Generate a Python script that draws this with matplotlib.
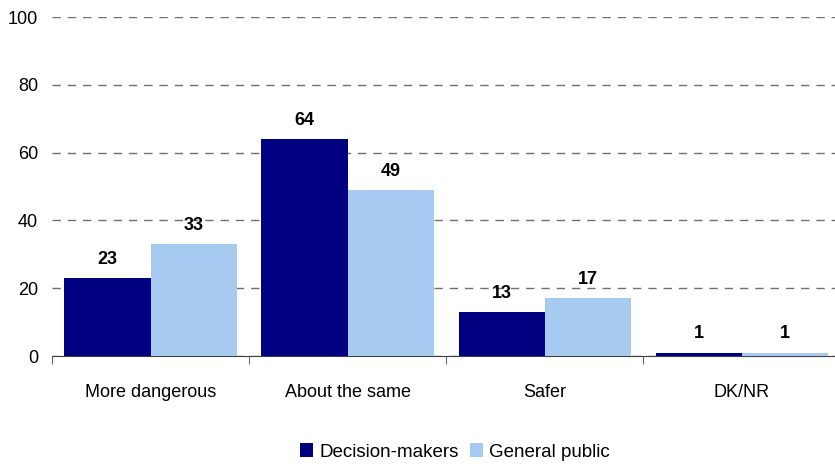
import matplotlib.pyplot as plt
import numpy as np

plt.rcParams['font.family'] = ['Liberation Sans', 'DejaVu Sans']

## Data
categories = ['More dangerous', 'About the same', 'Safer', 'DK/NR']
decision_makers = [23, 64, 13, 1]
general_public = [33, 49, 17, 1]
series_names = ['Decision-makers', 'General public']
colors = ['#000080', '#A6CAF0']

fig = plt.figure(figsize=(8.35, 4.66), dpi=100)
ax = fig.add_axes([0.0623, 0.236, 0.944, 0.7275])

x = np.arange(len(categories))
w = 0.437
b1 = ax.bar(x - w/2, decision_makers, w, color=colors[0], label=series_names[0], zorder=3)
b2 = ax.bar(x + w/2, general_public, w, color=colors[1], label=series_names[1], zorder=3)

for bars in (b1, b2):
    for r in bars:
        ax.text(r.get_x() + r.get_width()/2, r.get_height() + 3, '%d' % r.get_height(),
                ha='center', va='bottom', fontsize=13, fontweight='bold')

ax.set_xlim(-0.5, len(categories) - 0.5)
ax.set_ylim(0, 100)
ax.set_yticks(range(0, 101, 20))
ax.yaxis.grid(True, linestyle=(0, (6, 5)), color='#707070', linewidth=1.0, zorder=0)
ax.tick_params(axis='y', length=0, labelsize=13, pad=10)

## category labels, boundary ticks
ax.set_xticks(x)
ax.set_xticklabels(categories, fontsize=13)
ax.tick_params(axis='x', length=0, pad=20)
ax.set_xticks(np.arange(-0.5, len(categories) - 0.5, 1), minor=True)
ax.tick_params(axis='x', which='minor', length=6, direction='out', color='#404040')

for s in ['top', 'right', 'left']:
    ax.spines[s].set_visible(False)
ax.spines['bottom'].set_color('#404040')

fig.legend(handles=[b1, b2], labels=series_names, loc='center',
           bbox_to_anchor=(0.545, 1 - 452/466), ncol=2, frameon=False, fontsize=13.5,
           handlelength=0.7, handleheight=0.7, handletextpad=0.32, columnspacing=0.59,
           borderpad=0, borderaxespad=0)

fig.savefig('out.png', dpi=100)
